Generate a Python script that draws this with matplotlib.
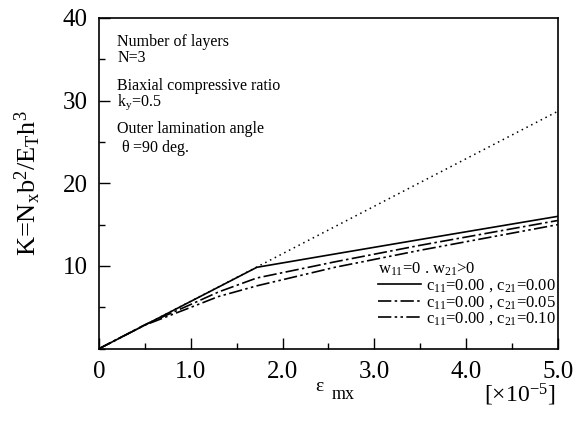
import matplotlib
matplotlib.use('Agg')
import matplotlib.pyplot as plt
from matplotlib.ticker import MultipleLocator

plt.rcParams['font.family'] = ['Liberation Serif', 'DejaVu Serif']
plt.rcParams['mathtext.fontset'] = 'custom'
plt.rcParams['mathtext.rm'] = 'Liberation Serif'
plt.rcParams['mathtext.it'] = 'Liberation Serif:italic'
plt.rcParams['mathtext.default'] = 'regular'

# strain eps_mx [x1e-5] vs buckling coefficient K
eps_linear = [0.0, 5.0]
k_linear = [0.0, 28.7]

eps_c00 = [0.0, 1.0, 1.72, 2.57, 3.5, 5.0]
k_c00 = [0.0, 5.72, 9.84, 11.45, 13.2, 16.0]

eps_c05 = [0.0, 0.5, 1.0, 1.3, 1.72, 2.57, 3.5, 5.0]
k_c05 = [0.0, 2.9, 5.35, 6.85, 8.55, 10.5, 12.5, 15.5]

eps_c10 = [0.0, 0.5, 1.0, 1.3, 1.72, 2.57, 3.5, 5.0]
k_c10 = [0.0, 2.85, 5.0, 6.3, 7.6, 9.84, 11.9, 15.0]

labels = ['c$_{11}$=0.00 , c$_{21}$=0.00',
          'c$_{11}$=0.00 , c$_{21}$=0.05',
          'c$_{11}$=0.00 , c$_{21}$=0.10']

fig = plt.figure(figsize=(5.8, 4.21), dpi=100)
ax = fig.add_axes([0.1707, 0.1717, 0.791, 0.786])

ax.plot(eps_linear, k_linear, color='black', lw=1.1, linestyle=(0, (1, 2.5)))
ax.plot(eps_c00, k_c00, color='black', lw=1.2, linestyle='-', label=labels[0])
ax.plot(eps_c05, k_c05, color='black', lw=1.2, linestyle=(0, (8, 2, 1.5, 2)), label=labels[1])
ax.plot(eps_c10, k_c10, color='black', lw=1.2, linestyle=(0, (8, 2, 1.5, 2, 1.5, 2)), label=labels[2])

ax.set_xlim(0, 5.0)
ax.set_ylim(0, 40)
ax.set_xticks([0, 1, 2, 3, 4, 5])
ax.set_xticklabels(['0', '1.0', '2.0', '3.0', '4.0', '5.0'])
ax.set_yticks([10, 20, 30, 40])
ax.xaxis.set_minor_locator(MultipleLocator(0.5))
ax.yaxis.set_minor_locator(MultipleLocator(5))
ax.tick_params(which='both', direction='in', top=False, right=False, labelsize=18, width=1.0)
ax.tick_params(which='major', length=8)
ax.tick_params(axis='x', which='major', pad=9)
ax.tick_params(axis='y', which='major', pad=8)
ax.tick_params(which='minor', length=4)
for s in ax.spines.values():
    s.set_linewidth(1.2)

ax.set_ylabel('K=N$_x$b$^2$/E$_T$h$^3$', fontsize=19, labelpad=14)
fig.text(0.543, 0.062, 'ε', fontsize=14, ha='left', va='bottom')
fig.text(0.572, 0.043, 'mx', fontsize=13, ha='left', va='bottom')
fig.text(0.835, 0.03, '[×10$^{-5}$]', fontsize=17, ha='left', va='bottom')

notes = [('Number of layers', 0.927), ('N=3', 0.879),
         ('Biaxial compressive ratio', 0.795), ('k$_y$=0.5', 0.744),
         ('Outer lamination angle', 0.663), (' $\\theta$ =90 deg.', 0.607)]
for txt, yy in notes:
    ax.text(0.04, yy, txt, transform=ax.transAxes, fontsize=11.5, va='center', ha='left')

leg = ax.legend(loc='lower right', bbox_to_anchor=(0.995, 0.065), frameon=False,
                fontsize=12, title='w$_{11}$=0 . w$_{21}$>0', title_fontsize=12,
                alignment='left', handlelength=2.6, handletextpad=0.25,
                labelspacing=-0.02, borderpad=0.0, borderaxespad=0.0)

fig.savefig('out.png', dpi=100)
